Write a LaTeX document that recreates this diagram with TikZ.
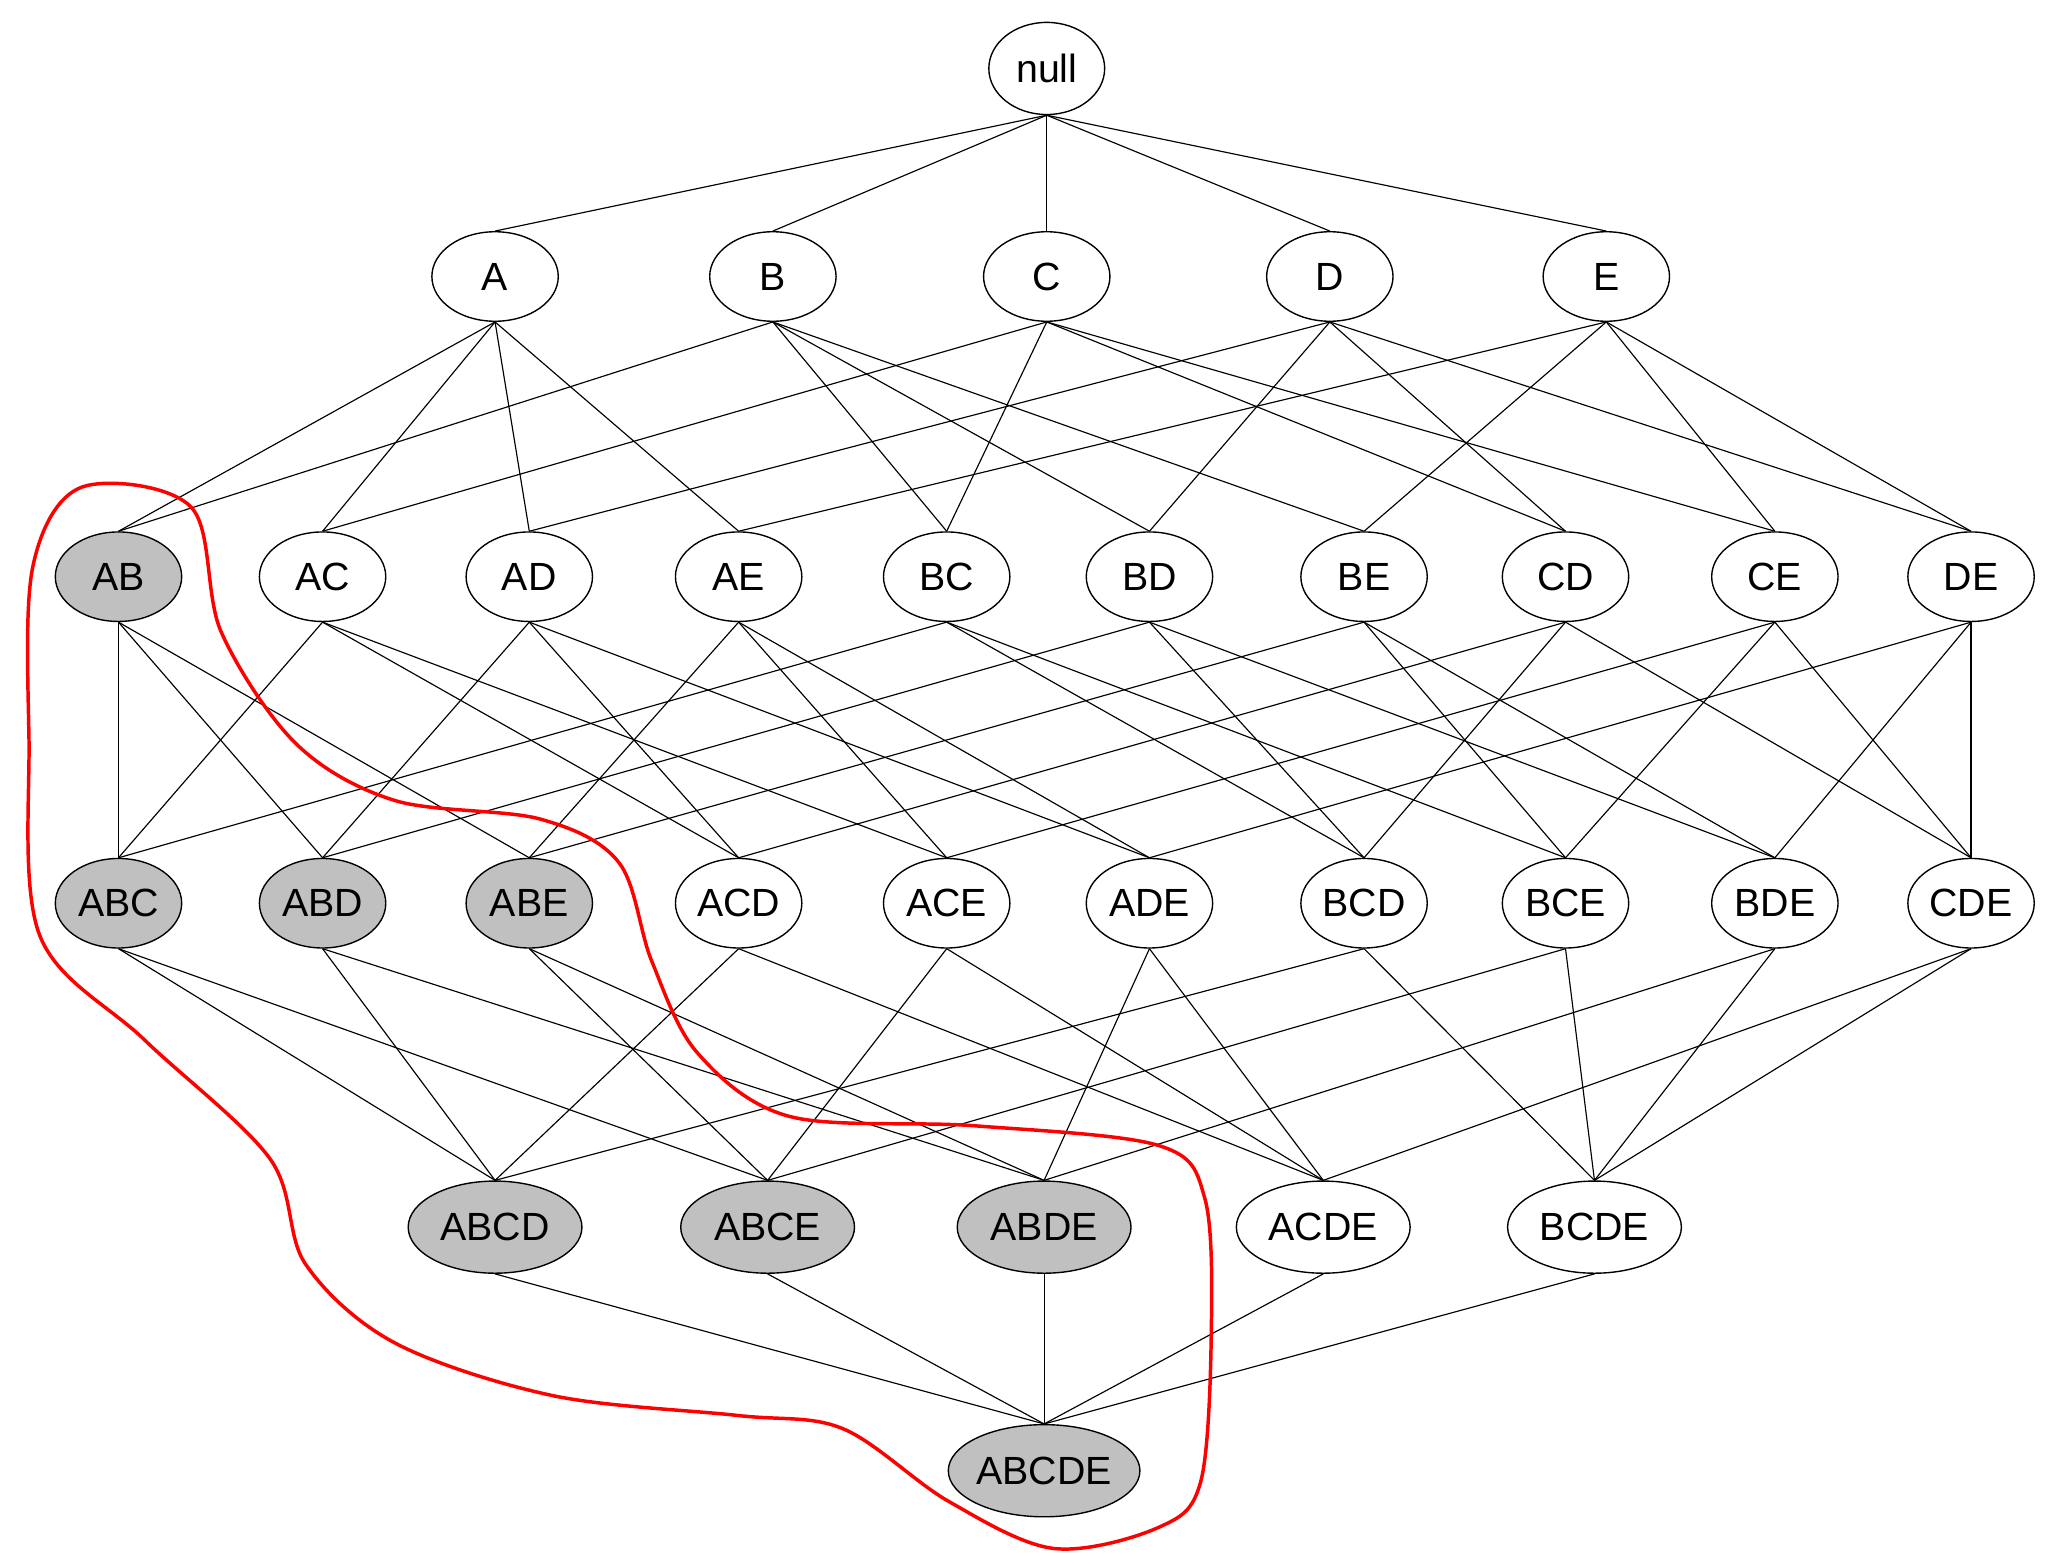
\documentclass[tikz,border=0pt]{standalone}
\usepackage{fontspec}
\setmainfont{Liberation Sans}
\usetikzlibrary{shapes.geometric}
\definecolor{grayfill}{RGB}{192,192,192}
\begin{document}
\begin{tikzpicture}[x=0.02cm,y=-0.02cm,
  set/.style={ellipse,draw,line width=0.6pt,inner sep=0pt,minimum width=1.92cm,minimum height=1.36cm,font=\fontsize{17}{17}\selectfont},
  big/.style={set,minimum width=2.64cm,minimum height=1.4cm},
  freq/.style={fill=grayfill},
  edge/.style={line width=0.5pt}]
\useasboundingbox (0,0) rectangle (1560,1190);
\node[set,minimum width=1.76cm,minimum height=1.4cm] (null) at (795,52) {null};
\foreach \n/\x in {A/376,B/587,C/795,D/1010,E/1220}
  \node[set] (\n) at (\x,210) {\n};
\foreach \n/\x/\f in {AB/90/freq,AC/245/,AD/402/,AE/561/,BC/719/,BD/873/,BE/1036/,CD/1189/,CE/1348/,DE/1497/}
  \node[set,\f] (\n) at (\x,438) {\n};
\foreach \n/\x/\f in {ABC/90/freq,ABD/245/freq,ABE/402/freq,ACD/561/,ACE/719/,ADE/873/,BCD/1036/,BCE/1189/,BDE/1348/,CDE/1497/}
  \node[set,\f] (\n) at (\x,686) {\n};
\foreach \n/\x/\f in {ABCD/376/freq,ABCE/583/freq,ABDE/793/freq,ACDE/1005/,BCDE/1211/}
  \node[big,\f] (\n) at (\x,932) {\n};
\node[big,freq,minimum width=2.8cm] (ABCDE) at (793,1117) {ABCDE};
\foreach \p in {A,B,C,D,E} \draw[edge] (null.south) -- (\p.north);
\foreach \c/\ps in {AB/{A,B},AC/{A,C},AD/{A,D},AE/{A,E},BC/{B,C},BD/{B,D},BE/{B,E},CD/{C,D},CE/{C,E},DE/{D,E},
  ABC/{AB,AC,BC},ABD/{AB,AD,BD},ABE/{AB,AE,BE},ACD/{AC,AD,CD},ACE/{AC,AE,CE},ADE/{AD,AE,DE},BCD/{BC,BD,CD},BCE/{BC,BE,CE},BDE/{BD,BE,DE},CDE/{CD,CE,DE},
  ABCD/{ABC,ABD,ACD,BCD},ABCE/{ABC,ABE,ACE,BCE},ABDE/{ABD,ABE,ADE,BDE},ACDE/{ACD,ACE,ADE,CDE},BCDE/{BCD,BCE,BDE,CDE},
  ABCDE/{ABCD,ABCE,ABDE,ACDE,BCDE}}
  \foreach \p in \ps \draw[edge] (\p.south) -- (\c.north);
\draw[red,line width=1.5pt] plot[smooth cycle,tension=0.55] coordinates {
  (62,370) (145,385) (168,480) (225,565) (300,608) (410,622) (470,655) (495,730) (530,800) (600,848) (740,855) (880,870) (915,910) (920,1010) (912,1125) (880,1160) (800,1176) (720,1140) (640,1085) (560,1075) (420,1060) (300,1020) (232,960) (205,880) (110,790) (30,710) (22,560) (25,430)};
\end{tikzpicture}
\end{document}
